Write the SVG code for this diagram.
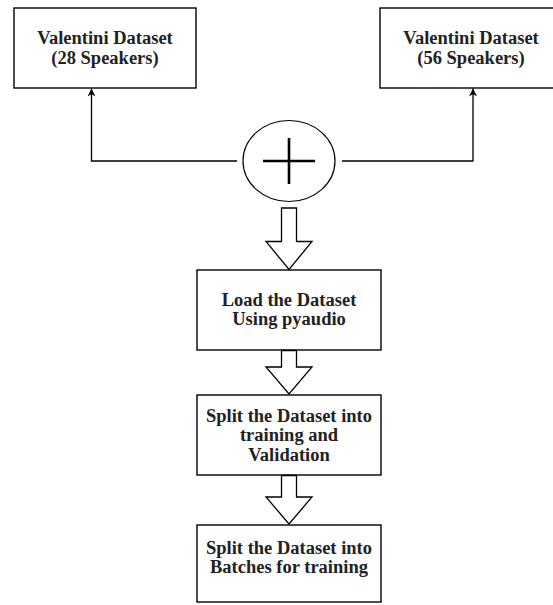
<svg xmlns="http://www.w3.org/2000/svg" width="553" height="605" viewBox="0 0 553 605">
  <defs>
    <marker id="arrow" viewBox="0 0 10 10" refX="10" refY="5" markerWidth="8" markerHeight="8" markerUnits="userSpaceOnUse" orient="auto">
      <path d="M0,0 L10,5 L0,10 L3,5 Z" fill="#000"/>
    </marker>
    <style>
      .box { fill: #fff; stroke: #000; stroke-width: 1.4; }
      .lbl { font-family: "Liberation Serif", "Times New Roman", serif; font-weight: bold; font-size: 18.5px; fill: #222; text-anchor: middle; }
      .link { fill: none; stroke: #000; stroke-width: 1.3; }
      .block { fill: #fff; stroke: #000; stroke-width: 1.3; stroke-linejoin: miter; }
    </style>
  </defs>
  <rect width="553" height="605" fill="#fff"/>

  <!-- source datasets -->
  <g id="valentini28">
    <rect class="box" x="14" y="8" width="182" height="80"/>
    <text class="lbl" x="105" y="43.5">Valentini Dataset</text>
    <text class="lbl" x="105" y="63.5">(28 Speakers)</text>
  </g>
  <g id="valentini56">
    <rect class="box" x="380" y="8" width="182" height="80"/>
    <text class="lbl" x="471" y="43.5">Valentini Dataset</text>
    <text class="lbl" x="471" y="63.5">(56 Speakers)</text>
  </g>

  <!-- merge symbol -->
  <g id="merge">
    <ellipse cx="289" cy="161" rx="46" ry="40.5" fill="#fff" stroke="#000" stroke-width="1.2"/>
    <path d="M263,161 H315 M289,138 V184" stroke="#000" stroke-width="2.6" fill="none"/>
  </g>

  <!-- processing steps -->
  <g id="load">
    <rect class="box" x="197" y="270" width="184" height="80"/>
    <text class="lbl" x="289" y="305.5">Load the Dataset</text>
    <text class="lbl" x="289" y="325">Using pyaudio</text>
  </g>
  <g id="splitValidation">
    <rect class="box" x="197" y="395" width="184" height="80"/>
    <text class="lbl" x="289" y="421.5">Split the Dataset into</text>
    <text class="lbl" x="289" y="441">training and</text>
    <text class="lbl" x="289" y="460.5">Validation</text>
  </g>
  <g id="splitBatches">
    <rect class="box" x="197" y="525" width="184" height="77"/>
    <text class="lbl" x="289" y="554">Split the Dataset into</text>
    <text class="lbl" x="289" y="573">Batches for training</text>
  </g>

  <!-- connectors -->
  <g id="connectors">
    <path class="link" d="M237,161 H91.5 V88.5" marker-end="url(#arrow)"/>
    <path class="link" d="M342,161 H473 V88.5" marker-end="url(#arrow)"/>
    <path class="block" d="M281.5,208 H296.5 V241.5 H312 L289,269.5 L266,241.5 H281.5 Z"/>
    <path class="block" d="M281.5,350.5 H296.5 V367 H312 L289,394 L266,367 H281.5 Z"/>
    <path class="block" d="M281.5,475.5 H296.5 V497 H312 L289,524 L266,497 H281.5 Z"/>
  </g>
</svg>
